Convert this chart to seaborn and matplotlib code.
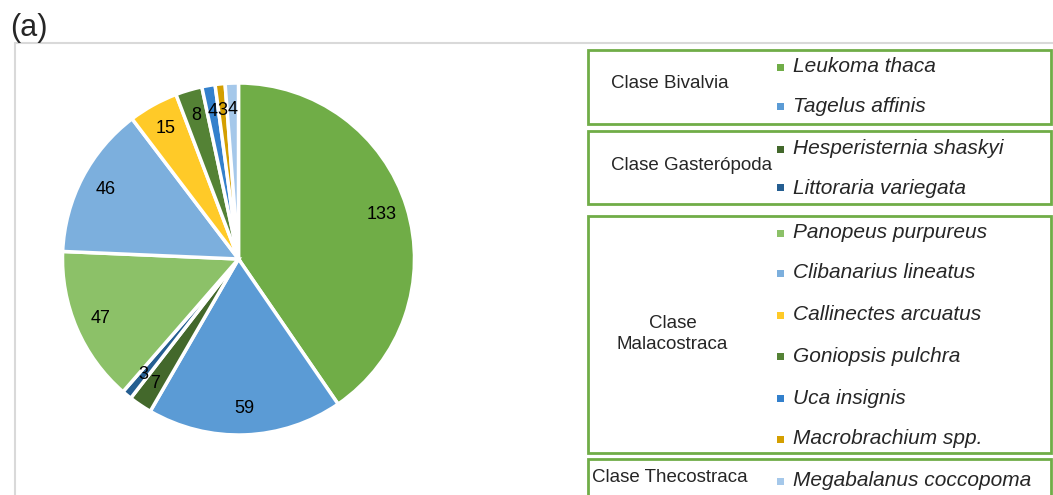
import matplotlib
matplotlib.use("Agg")
import matplotlib.pyplot as plt
from matplotlib.patches import Rectangle
from matplotlib.lines import Line2D
import seaborn as sns

sns.set_theme(style="white")
plt.rcParams['font.family'] = ['Liberation Sans', 'DejaVu Sans']

species = ["Leukoma thaca", "Tagelus affinis", "Hesperisternia shaskyi",
           "Littoraria variegata", "Panopeus purpureus", "Clibanarius lineatus",
           "Callinectes arcuatus", "Goniopsis pulchra", "Uca insignis",
           "Macrobrachium spp.", "Megabalanus coccopoma"]
counts = [133, 59, 7, 3, 47, 46, 15, 8, 4, 3, 4]
colors = ["#70AD47", "#5B9BD5", "#43682B", "#255E91", "#8CC168", "#7CAFDD",
          "#FFCA28", "#548235", "#3380CC", "#D49F00", "#A5C8EA"]
classes = ["Clase Bivalvia", "Clase Gasterópoda", "Clase\nMalacostraca", "Clase Thecostraca"]
class_members = [2, 2, 6, 1]

W, H = 1053, 495
fig = plt.figure(figsize=(W / 100, H / 100), dpi=100)

def fx(x):
    return x / W

def fy(y):
    return 1 - y / H

# pie
cx, cy, r = 238.5, 259, 176
ax = fig.add_axes([fx(cx - r), fy(cy + r), 2 * r / W, 2 * r / H])
wedges, texts = ax.pie(counts, colors=colors, startangle=90, counterclock=False,
                       labels=[str(c) for c in counts], labeldistance=0.85,
                       wedgeprops=dict(edgecolor="white", linewidth=2.5),
                       textprops=dict(fontsize=13, color="black"))
for t in texts:
    t.set_ha("center")
    t.set_va("center")
ax.set_xlim(-1.0, 1.0)
ax.set_ylim(-1.0, 1.0)
ax.set_aspect("equal")
ax.axis("off")

# outer gray frame
gray = "#D9D9D9"
fig.add_artist(Line2D([fx(15), fx(W)], [fy(43), fy(43)], color=gray, lw=1.5, transform=fig.transFigure))
fig.add_artist(Line2D([fx(15), fx(15)], [fy(43), fy(H)], color=gray, lw=1.5, transform=fig.transFigure))

fig.text(fx(10), fy(28), "(a)", fontsize=22, ha="left", va="center")

# legend boxes
green = "#70AD47"
boxes = [(50, 124), (131, 204), (216, 453), (459, 500)]
class_pos = [(611, 83, "left"), (611, 166, "left"), (672.5, 334, "center"), (592, 477, "left")]
row_y = [67, 106, 149, 188, 233, 273, 315, 356, 398, 439, 481]
for (y0, y1) in boxes:
    fig.add_artist(Rectangle((fx(588), fy(y1)), fx(1051) - fx(588), fy(y0) - fy(y1),
                             fill=False, edgecolor=green, lw=2, transform=fig.transFigure))
for name, (px, py, ha) in zip(classes, class_pos):
    fig.text(fx(px), fy(py), name, fontsize=13.5, ha=ha, va="center",
             multialignment="center", linespacing=1.35)
for name, col, yy in zip(species, colors, row_y):
    fig.add_artist(Rectangle((fx(777), fy(yy + 3.5)), 7 / W, 7 / H, facecolor=col,
                             edgecolor="none", transform=fig.transFigure))
    fig.text(fx(793), fy(yy), name, fontsize=15, style="italic", ha="left", va="center")

fig.savefig("out.png", dpi=100)
